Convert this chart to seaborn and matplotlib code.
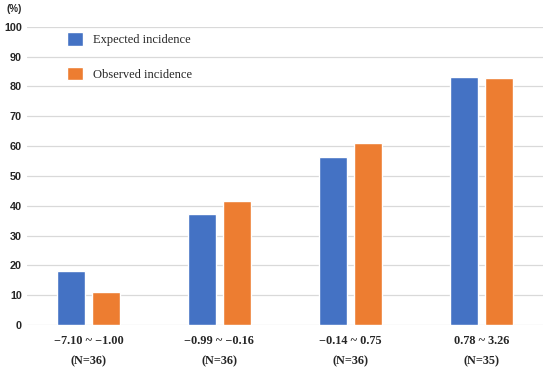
import numpy as np
import pandas as pd
import matplotlib
matplotlib.use("Agg")
import matplotlib.pyplot as plt
import seaborn as sns

# data
groups = ["\u22127.10 ~ \u22121.00\n(N=36)", "\u22120.99 ~ \u22120.16\n(N=36)",
          "\u22120.14 ~ 0.75\n(N=36)", "0.78 ~ 3.26\n(N=35)"]
expected = [18.0, 37.2, 56.2, 83.3]
observed = [11.0, 41.7, 61.0, 82.8]
series = ["Expected incidence", "Observed incidence"]
colors = ["#4472C4", "#ED7D31"]

df = pd.DataFrame({
    "group": groups * 2,
    "value": expected + observed,
    "series": [series[0]] * 4 + [series[1]] * 4,
})

sns.set_style("white")
fig = plt.figure(figsize=(5.5, 3.68), dpi=100)
ax = fig.add_axes([0.049, 0.117, 0.938, 0.81])

sns.barplot(data=df, x="group", y="value", hue="series", palette=colors,
            width=0.535, gap=0.2, ax=ax, saturation=1, errorbar=None)

ax.set_ylim(0, 100)
ax.set_xlim(-0.469, 3.469)
ax.set_yticks(range(0, 101, 10))
ax.yaxis.grid(True, color="#D9D9D9", linewidth=0.9)
ax.set_axisbelow(True)
for s in ax.spines.values():
    s.set_visible(False)
ax.tick_params(axis="both", length=0)
ax.tick_params(axis="y", pad=3.5)
ax.set_xlabel("")
ax.set_ylabel("")
for t in ax.get_yticklabels():
    t.set_fontweight("bold")
    t.set_fontsize(7.8)
    t.set_family("Liberation Sans")
for t in ax.get_xticklabels():
    t.set_fontweight("bold")
    t.set_fontsize(8.8)
    t.set_family("Liberation Serif")
    t.set_linespacing(1.95)
ax.tick_params(axis="x", pad=7)

fig.text(0.012, 0.988, "(%)", fontsize=7, fontweight="bold",
         family="Liberation Sans", va="top")

leg = ax.legend(loc="upper left", bbox_to_anchor=(0.055, 1.02), frameon=False,
                prop={"family": "Liberation Serif", "size": 9},
                handlelength=1.3, handleheight=1.3, labelspacing=1.65,
                handletextpad=0.8)

fig.savefig("out.png", dpi=100)
